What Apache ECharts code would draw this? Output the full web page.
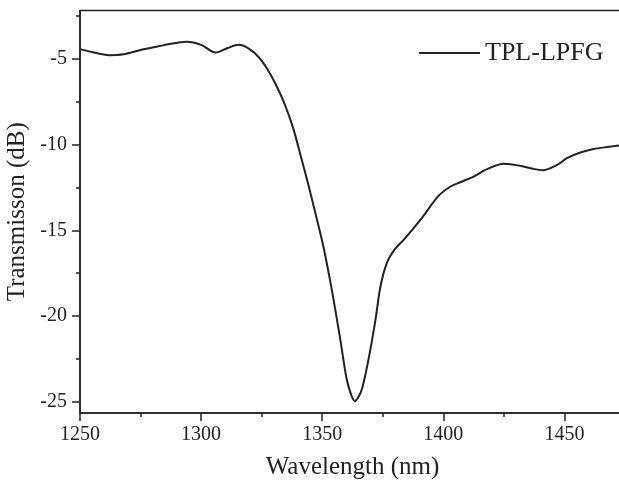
<!DOCTYPE html>
<html>
<head>
<meta charset="utf-8">
<style>
	html, body {margin: 0;padding: 0;background: #fff}
	#main {width: 619px;height: 483px}
</style>
</head>
<body>
<div id="main"></div>
<script src="https://cdn.jsdelivr.net/npm/echarts@6/dist/echarts.min.js"></script>
<script>
	// 读图得到的数据
	var wavelength = [1250, 1255, 1262, 1268, 1275, 1282, 1287, 1294, 1300, 1306, 1311, 1315.5, 1320, 1324, 1327.5, 1331, 1334.5, 1338, 1341, 1344, 1347, 1350.5, 1354, 1357.5, 1360, 1362, 1363.5, 1365, 1366.5, 1369, 1372, 1374, 1376.7, 1380, 1384, 1390.5, 1398, 1403, 1407, 1412.5, 1418, 1425, 1432, 1437, 1441, 1447, 1451, 1456.6, 1462, 1467.6, 1472.7, 1476];
	var transmission = [-4.45, -4.62, -4.8, -4.75, -4.5, -4.3, -4.15, -4.02, -4.2, -4.65, -4.38, -4.2, -4.45, -4.95, -5.65, -6.55, -7.65, -9.05, -10.6, -12.2, -13.9, -15.96, -18.5, -21.4, -23.6, -24.6, -24.95, -24.7, -24.2, -22.6, -20.2, -18.3, -16.9, -16.1, -15.5, -14.4, -13.0, -12.45, -12.2, -11.87, -11.44, -11.13, -11.25, -11.42, -11.5, -11.19, -10.8, -10.47, -10.27, -10.15, -10.06, -10.02];
	var yMajor = [-25, -20, -15, -10, -5];
	var yMinor = [-22.5, -17.5, -12.5, -7.5, -2.5];
	var seriesName = 'TPL-LPFG';

	var points = wavelength.map(function (w, i) {
		return [w, transmission[i]];
	});

	var font = '"Liberation Serif", "DejaVu Serif", serif';
	var ink = '#222';
	var myChart = echarts.init(document.getElementById('main'), null, {renderer: 'canvas'});
	var option = {
		backgroundColor: '#fff',
		animation: false,
		grid: {
			left: 80,
			right: -6,
			top: 10.5,
			bottom: 70,
			outerBoundsMode: 'none',
			containLabel: false,
			show: true,
			borderColor: ink,
			borderWidth: 1.5,
			backgroundColor: 'transparent'
		},
		legend: {
			data: [seriesName],
			left: 414,
			top: 35,
			itemWidth: 61,
			itemHeight: 2,
			itemGap: 6,
			icon: 'rect',
			textStyle: {fontFamily: font, fontSize: 26, color: ink}
		},
		xAxis: {
			type: 'value',
			min: 1250,
			max: 1475,
			interval: 50,
			name: 'Wavelength (nm)',
			nameLocation: 'middle',
			nameGap: 42,
			nameTextStyle: {fontFamily: font, fontSize: 25, color: ink},
			axisLine: {lineStyle: {color: ink, width: 1.5}},
			axisTick: {inside: false, length: 8, lineStyle: {color: ink, width: 1.5}},
			minorTick: {show: true, splitNumber: 2, length: 4, lineStyle: {color: ink, width: 1.5}},
			axisLabel: {
				fontFamily: font, fontSize: 20, color: ink, margin: 12, showMaxLabel: false,
				formatter: function (v) { return String(v); }
			},
			splitLine: {show: false}
		},
		yAxis: [{
			type: 'value',
			min: -25.64,
			max: -2.2,
			name: 'Transmisson (dB)',
			nameLocation: 'middle',
			nameGap: 44,
			nameTextStyle: {fontFamily: font, fontSize: 25, color: ink},
			axisLine: {show: true, lineStyle: {color: ink, width: 1.5}},
			axisTick: {show: true, length: 8, customValues: yMajor, lineStyle: {color: ink, width: 1.5}},
			axisLabel: {fontFamily: font, fontSize: 20, color: ink, margin: 13, customValues: yMajor},
			splitLine: {show: false}
		}, {
			type: 'value',
			position: 'left',
			min: -25.64,
			max: -2.2,
			axisLine: {show: false},
			axisTick: {show: true, length: 4, customValues: yMinor, lineStyle: {color: ink, width: 1.5}},
			axisLabel: {show: false},
			splitLine: {show: false}
		}],
		series: [{
			name: seriesName,
			type: 'line',
			data: points,
			smooth: 0.3,
			showSymbol: false,
			clip: true,
			lineStyle: {color: ink, width: 2},
			itemStyle: {color: ink}
		}]
	};
	myChart.setOption(option);
</script>
</body>
</html>
